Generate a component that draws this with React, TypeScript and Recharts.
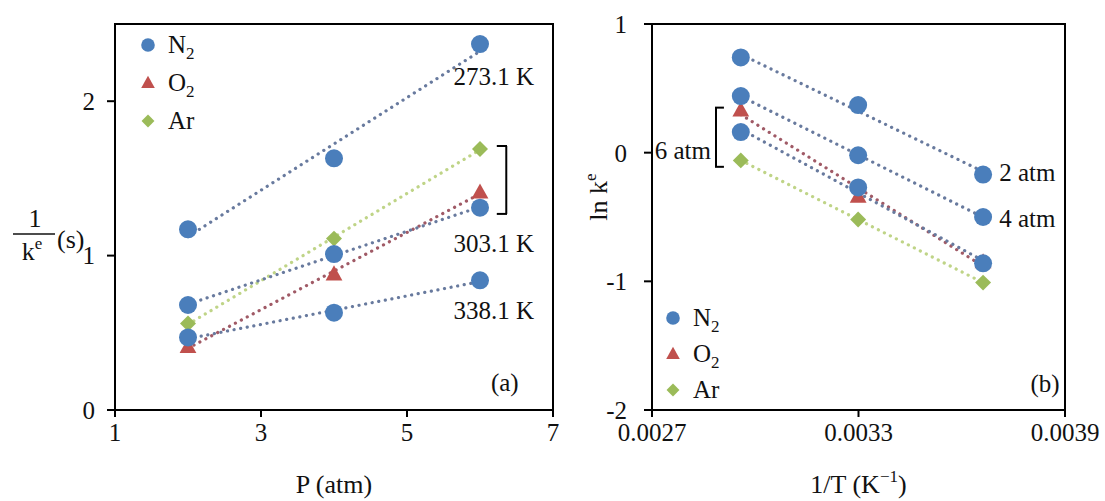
import React from 'react';
import {
  ScatterChart,
  Scatter,
  XAxis,
  YAxis,
  Legend,
  ReferenceArea,
  ReferenceDot,
  ReferenceLine,
} from 'recharts';

const FONT = 'Liberation Serif, DejaVu Serif, serif';
const INK = '#111';
const FS = 25; // tick labels, legend, notes
const TITLE_FS = 26;

const BLUE = '#4a7ebb';
const RED = '#c0504d';
const GREEN = '#9bbb59';

// panel (a): 1/k^e vs pressure
const P_ATM = [2, 4, 6];
const N2_273 = [1.17, 1.63, 2.37];
const N2_303 = [0.68, 1.01, 1.31];
const N2_338 = [0.47, 0.63, 0.84];
const O2_303 = [0.41, 0.88, 1.41];
const AR_303 = [0.56, 1.11, 1.69];
const P_TICKS = [1, 3, 5, 7];
const INVK_TICKS = [0, 1, 2];

// panel (b): ln k^e vs 1/T
const INV_T = [0.002958, 0.003299, 0.003662];
const LNK_N2_2 = [0.74, 0.37, -0.17];
const LNK_N2_4 = [0.44, -0.02, -0.5];
const LNK_N2_6 = [0.16, -0.27, -0.86];
const LNK_O2_6 = [0.33, -0.34, -0.85];
const LNK_AR_6 = [-0.06, -0.52, -1.01];
const INVT_TICKS = [0.0027, 0.0033, 0.0039];
const LNK_TICKS = [-2, -1, 0, 1];

const LEGEND_ORDER = ['N2', 'O2', 'Ar'];

const toPts = (xs: number[], ys: number[]) => xs.map((x, i) => ({ x, y: ys[i] }));

const dotted = (stroke: string) => ({
  stroke,
  strokeWidth: 3.2,
  strokeDasharray: '0.1 6.6',
  strokeLinecap: 'round' as const,
});
const LINE_N2 = dotted('#687a9e');
const LINE_O2 = dotted('#a05a66');
const LINE_AR = dotted('#bfd487');

type Kind = 'circle' | 'triangle' | 'diamond';

function Marker({ kind, cx, cy, s, fill }: { kind: Kind; cx: number; cy: number; s: number; fill: string }) {
  if (kind === 'circle') return <circle cx={cx} cy={cy} r={s} fill={fill} />;
  if (kind === 'triangle') {
    const pts = `${cx},${cy - s * 1.05} ${cx + s},${cy + s * 0.75} ${cx - s},${cy + s * 0.75}`;
    return <polygon points={pts} fill={fill} />;
  }
  const d = s * 0.95;
  return <polygon points={`${cx},${cy - d} ${cx + d},${cy} ${cx},${cy + d} ${cx - d},${cy}`} fill={fill} />;
}

const shapeOf = (kind: Kind, fill: string) => (p: any) => (
  <Marker kind={kind} cx={p.cx} cy={p.cy} s={kind === 'circle' ? 9 : 8.4} fill={fill} />
);

function Chem({ name }: { name: string }) {
  const m = name.match(/^([A-Za-z]+)(\d*)$/);
  if (!m || !m[2]) return <span>{name}</span>;
  return (
    <span>
      {m[1]}
      <sub style={{ fontSize: 17, verticalAlign: '-6px', lineHeight: 0 }}>{m[2]}</sub>
    </span>
  );
}

const legendContent = (rowH: number) => (props: any) => {
  const items = (props.payload || [])
    .filter((e: any) => e.type !== 'none')
    .sort((a: any, b: any) => LEGEND_ORDER.indexOf(a.value) - LEGEND_ORDER.indexOf(b.value));
  return (
    <div style={{ fontFamily: FONT, fontSize: FS, color: INK }}>
      {items.map((e: any) => (
        <div key={e.value} style={{ display: 'flex', alignItems: 'center', height: rowH }}>
          <svg width={16} height={16} style={{ marginRight: 12 }}>
            <Marker kind={e.type} cx={8} cy={8} s={6.8} fill={e.color} />
          </svg>
          <Chem name={e.value} />
        </div>
      ))}
    </div>
  );
};

const tickStyle = { fontSize: FS, fill: INK, fontFamily: FONT };
const axisLine = { stroke: '#000', strokeWidth: 2 };

function XTitle(props: any) {
  const { viewBox, children } = props;
  return (
    <text
      x={viewBox.x + viewBox.width / 2}
      y={viewBox.y + 83}
      textAnchor="middle"
      fontSize={TITLE_FS}
      fontFamily={FONT}
      fill={INK}
    >
      {children}
    </text>
  );
}

function InvKTitle(props: any) {
  const { viewBox } = props;
  const cy = viewBox.y + viewBox.height / 2;
  const cx = 35;
  return (
    <g fontFamily={FONT} fill={INK} fontSize={TITLE_FS}>
      <text x={cx} y={cy + 10} textAnchor="middle">1</text>
      <line x1={cx - 22} x2={cx + 20} y1={cy + 17} y2={cy + 17} stroke={INK} strokeWidth={1.4} />
      <text x={cx - 3} y={cy + 43} textAnchor="middle">
        k<tspan dy={-11} fontSize={17}>e</tspan>
      </text>
      <text x={cx + 22} y={cy + 31}>(s)</text>
    </g>
  );
}

function LnKTitle(props: any) {
  const { viewBox } = props;
  const x = 47;
  const y = viewBox.y + viewBox.height / 2 - 20;
  return (
    <text
      x={x}
      y={y}
      transform={`rotate(-90 ${x} ${y})`}
      textAnchor="middle"
      fontSize={TITLE_FS}
      fontFamily={FONT}
      fill={INK}
    >
      ln k<tspan dy={-11} fontSize={17}>e</tspan>
    </text>
  );
}

const note = (value: string, position: any = 'center') => ({
  value,
  position,
  offset: 4,
  fontSize: FS,
  fontFamily: FONT,
  fill: INK,
});

function PanelA() {
  return (
    <ScatterChart width={560} height={501} margin={{ top: 24, right: 7, bottom: 31, left: 75 }}>
      <XAxis
        type="number"
        dataKey="x"
        domain={[1, 7]}
        ticks={P_TICKS}
        height={60}
        axisLine={axisLine}
        tickLine={axisLine}
        tickSize={7}
        tickMargin={6}
        tick={tickStyle}
        label={<XTitle>P (atm)</XTitle>}
      />
      <YAxis
        type="number"
        dataKey="y"
        domain={[0, 2.5]}
        ticks={INVK_TICKS}
        width={40}
        axisLine={axisLine}
        tickLine={axisLine}
        tickSize={8}
        tickMargin={12}
        tick={tickStyle}
        label={<InvKTitle />}
      />
      <ReferenceArea x1={1} x2={7} y1={0} y2={2.5} fill="none" stroke="#000" strokeWidth={2} />
      <Legend
        layout="vertical"
        verticalAlign="middle"
        align="center"
        wrapperStyle={{ left: 140, top: 26, width: 'auto', height: 'auto' }}
        content={legendContent(38)}
      />
      <Scatter name="N2" data={toPts(P_ATM, N2_273)} fill={BLUE} legendType="circle" shape={shapeOf('circle', BLUE)} line={LINE_N2} lineType="fitting" isAnimationActive={false} />
      <Scatter name="O2" data={toPts(P_ATM, O2_303)} fill={RED} legendType="triangle" shape={shapeOf('triangle', RED)} line={LINE_O2} lineType="fitting" isAnimationActive={false} />
      <Scatter name="Ar" data={toPts(P_ATM, AR_303)} fill={GREEN} legendType="diamond" shape={shapeOf('diamond', GREEN)} line={LINE_AR} lineType="fitting" isAnimationActive={false} />
      <Scatter name="N2 303.1 K" data={toPts(P_ATM, N2_303)} fill={BLUE} legendType="none" shape={shapeOf('circle', BLUE)} line={LINE_N2} lineType="fitting" isAnimationActive={false} />
      <Scatter name="N2 338.1 K" data={toPts(P_ATM, N2_338)} fill={BLUE} legendType="none" shape={shapeOf('circle', BLUE)} line={LINE_N2} lineType="fitting" isAnimationActive={false} />
      <ReferenceLine segment={[{ x: 6.36, y: 1.71 }, { x: 6.36, y: 1.27 }]} stroke="#000" strokeWidth={2} />
      <ReferenceLine segment={[{ x: 6.23, y: 1.71 }, { x: 6.37, y: 1.71 }]} stroke="#000" strokeWidth={2} />
      <ReferenceLine segment={[{ x: 6.23, y: 1.27 }, { x: 6.37, y: 1.27 }]} stroke="#000" strokeWidth={2} />
      <ReferenceDot x={6.19} y={2.16} r={0} label={note('273.1 K')} />
      <ReferenceDot x={6.19} y={1.08} r={0} label={note('303.1 K')} />
      <ReferenceDot x={6.19} y={0.645} r={0} label={note('338.1 K')} />
      <ReferenceDot x={6.34} y={0.18} r={0} label={note('(a)')} />
    </ScatterChart>
  );
}

function PanelB() {
  return (
    <ScatterChart width={545} height={501} margin={{ top: 24, right: 40, bottom: 31, left: 52 }}>
      <XAxis
        type="number"
        dataKey="x"
        domain={[0.0027, 0.0039]}
        ticks={INVT_TICKS}
        tickFormatter={(v: number) => v.toFixed(4)}
        height={60}
        axisLine={axisLine}
        tickLine={axisLine}
        tickSize={7}
        tickMargin={6}
        tick={tickStyle}
        label={
          <XTitle>
            1/T (K<tspan dy={-11} fontSize={17}>−1</tspan>
            <tspan dy={11}>)</tspan>
          </XTitle>
        }
      />
      <YAxis
        type="number"
        dataKey="y"
        domain={[-2, 1]}
        ticks={LNK_TICKS}
        width={40}
        axisLine={axisLine}
        tickLine={axisLine}
        tickSize={8}
        tickMargin={17}
        tick={tickStyle}
        label={<LnKTitle />}
      />
      <ReferenceArea x1={0.0027} x2={0.0039} y1={-2} y2={1} fill="none" stroke="#000" strokeWidth={2} />
      <Legend
        layout="vertical"
        verticalAlign="middle"
        align="center"
        wrapperStyle={{ left: 105, top: 300, width: 'auto', height: 'auto' }}
        content={legendContent(36)}
      />
      <Scatter name="N2" data={toPts(INV_T, LNK_N2_2)} fill={BLUE} legendType="circle" shape={shapeOf('circle', BLUE)} line={LINE_N2} lineType="fitting" isAnimationActive={false} />
      <Scatter name="O2" data={toPts(INV_T, LNK_O2_6)} fill={RED} legendType="triangle" shape={shapeOf('triangle', RED)} line={LINE_O2} lineType="fitting" isAnimationActive={false} />
      <Scatter name="Ar" data={toPts(INV_T, LNK_AR_6)} fill={GREEN} legendType="diamond" shape={shapeOf('diamond', GREEN)} line={LINE_AR} lineType="fitting" isAnimationActive={false} />
      <Scatter name="N2 4 atm" data={toPts(INV_T, LNK_N2_4)} fill={BLUE} legendType="none" shape={shapeOf('circle', BLUE)} line={LINE_N2} lineType="fitting" isAnimationActive={false} />
      <Scatter name="N2 6 atm" data={toPts(INV_T, LNK_N2_6)} fill={BLUE} legendType="none" shape={shapeOf('circle', BLUE)} line={LINE_N2} lineType="fitting" isAnimationActive={false} />
      <ReferenceLine segment={[{ x: 0.002886, y: 0.35 }, { x: 0.002886, y: -0.11 }]} stroke="#000" strokeWidth={2} />
      <ReferenceLine segment={[{ x: 0.002883, y: 0.35 }, { x: 0.002909, y: 0.35 }]} stroke="#000" strokeWidth={2} />
      <ReferenceLine segment={[{ x: 0.002883, y: -0.11 }, { x: 0.002909, y: -0.11 }]} stroke="#000" strokeWidth={2} />
      <ReferenceDot x={0.002883} y={0.02} r={0} label={note('6 atm', 'left')} />
      <ReferenceDot x={0.003697} y={-0.155} r={0} label={note('2 atm', 'right')} />
      <ReferenceDot x={0.003697} y={-0.51} r={0} label={note('4 atm', 'right')} />
      <ReferenceDot x={0.003842} y={-1.79} r={0} label={note('(b)')} />
    </ScatterChart>
  );
}

export default function App() {
  return (
    <div style={{ position: 'absolute', left: 0, top: 0, width: 1105, height: 501, background: '#fff', fontFamily: FONT }}>
      <div style={{ position: 'absolute', left: 0, top: 0 }}>
        <PanelA />
      </div>
      <div style={{ position: 'absolute', left: 560, top: 0 }}>
        <PanelB />
      </div>
    </div>
  );
}
